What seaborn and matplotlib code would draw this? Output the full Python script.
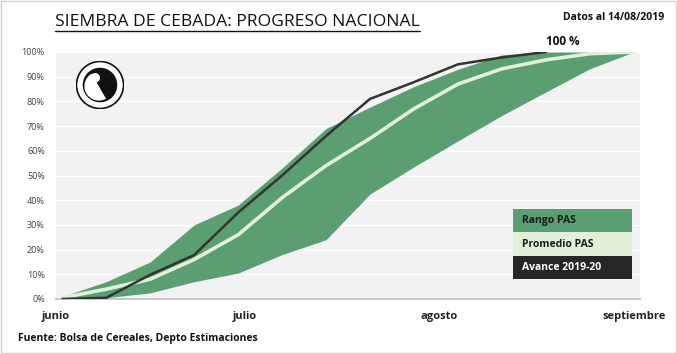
import pandas as pd
import matplotlib.pyplot as plt
from matplotlib.patches import Rectangle, Circle, Wedge
from matplotlib.lines import Line2D
import seaborn as sns

sns.set_theme(style="white")
plt.rcParams['font.family'] = ['Liberation Sans Narrow', 'Open Sans', 'DejaVu Sans']

# weekly dates of the season
fechas = ["2019-06-02", "2019-06-09", "2019-06-16", "2019-06-23", "2019-06-30",
          "2019-07-07", "2019-07-14", "2019-07-21", "2019-07-28", "2019-08-04",
          "2019-08-11", "2019-08-18", "2019-08-25", "2019-09-01"]
# range of previous seasons (PAS), % planted
rango_min = [0, 0.5, 2.5, 7, 10.5, 18, 24, 42.5, 53.5, 64, 74.3, 83.8, 93.2, 100]
rango_max = [1, 7, 15, 30, 38, 53, 69, 77.7, 86, 93, 98.8, 100, 100, 100]
promedio = [0.5, 4, 8, 16, 26, 41, 54, 65, 77, 87, 93.2, 96.8, 99.3, 100]
# current season, up to the last report
avance = [0, 0.5, 9.8, 17.8, 35, 50, 66, 81, 87.8, 95, 97.8, 100]

meses = ["2019-06-01", "2019-07-01", "2019-08-01", "2019-09-01"]
meses_lbl = ["junio", "julio", "agosto", "septiembre"]

df = pd.DataFrame({"fecha": pd.to_datetime(fechas), "min": rango_min,
                   "max": rango_max, "prom": promedio})
df_av = pd.DataFrame({"fecha": pd.to_datetime(fechas[:len(avance)]), "avance": avance})

verde = "#5a9e72"
claro = "#e2f0d9"
oscuro = "#333333"

fig = plt.figure(figsize=(6.77, 3.54), dpi=100)
fig.patch.set_facecolor("white")
ax = fig.add_axes([56 / 677, 55 / 354, 584 / 677, 247 / 354])
ax.set_facecolor("#f2f2f2")

ax.fill_between(df["fecha"], df["min"], df["max"], color=verde, lw=0, zorder=2)
sns.lineplot(data=df, x="fecha", y="prom", color=claro, lw=2.6, ax=ax, zorder=3)
sns.lineplot(data=df_av, x="fecha", y="avance", color=oscuro, lw=1.8, ax=ax, zorder=4)

last = df_av.iloc[-1]
ax.annotate("100 %", (last["fecha"], last["avance"]), xytext=(0, 3),
            textcoords="offset points", ha="left", va="bottom",
            fontsize=8.5, fontweight="bold", color="#111111", annotation_clip=False)

ax.set_xlim(pd.Timestamp("2019-06-01"), pd.Timestamp("2019-09-02"))
ax.set_ylim(0, 100)
ax.set_yticks(range(0, 101, 10))
ax.set_yticklabels([f"{v}%" for v in range(0, 101, 10)], fontsize=6.5, color="#404040")
ax.set_xticks(pd.to_datetime(meses))
ax.set_xticklabels(meses_lbl, fontsize=8, fontweight="bold", color="#222222")
ax.tick_params(axis="x", direction="out", length=4, color="#bfbfbf", pad=5)
ax.tick_params(axis="y", length=0, pad=8)
ax.yaxis.grid(True, color="white", lw=1)
ax.set_axisbelow(True)
for s in ["top", "right", "left"]:
    ax.spines[s].set_visible(False)
ax.spines["bottom"].set_color("#bfbfbf")
ax.set_xlabel("")
ax.set_ylabel("")

# legend as stacked boxes
filas = [("Rango PAS", verde, "#1a1a1a"), ("Promedio PAS", claro, "#1a1a1a"),
         ("Avance 2019-20", "#262626", "white")]
x0, x1 = (513 - 56) / 584, (632 - 56) / 584
tops = [0.364, 0.271, 0.174]
bots = [0.271, 0.174, 0.081]
for (txt, fc, tc), t, b in zip(filas, tops, bots):
    ax.add_patch(Rectangle((x0, b), x1 - x0, t - b, transform=ax.transAxes,
                           facecolor=fc, edgecolor="none", zorder=6))
    ax.text(x0 + 0.015, (t + b) / 2, txt, transform=ax.transAxes, ha="left",
            va="center", fontsize=7.5, fontweight="bold", color=tc, zorder=7)

# logo stand-in
lax = fig.add_axes([(100 - 24) / 677, (354 - 85 - 24) / 354, 48 / 677, 48 / 354])
lax.set_xlim(-1, 1)
lax.set_ylim(-1, 1)
lax.set_aspect("equal")
lax.axis("off")
lax.add_patch(Circle((0, 0), 0.98, facecolor="white", edgecolor="#111111", lw=1.2))
lax.add_patch(Circle((0, 0), 0.72, facecolor="#111111", edgecolor="none"))
lax.add_patch(Wedge((-0.05, -0.05), 0.6, 120, 300, facecolor="white", edgecolor="none"))
lax.add_patch(Circle((-0.2, 0.3), 0.2, facecolor="white", edgecolor="none"))

# titles
titulo = fig.text(55 / 677, 1 - 22 / 354, "SIEMBRA DE CEBADA: PROGRESO NACIONAL",
                  fontsize=12.6, color="#111111", ha="left", va="center")
fig.text(664 / 677, 1 - 17 / 354, "Datos al 14/08/2019", fontsize=7.5,
         fontweight="bold", color="#111111", ha="right", va="center")
fig.text(18 / 677, 1 - 338 / 354, "Fuente: Bolsa de Cereales, Depto Estimaciones",
         fontsize=7.5, fontweight="bold", color="#111111", ha="left", va="center")

# underline title
fig.canvas.draw()
bb = titulo.get_window_extent().transformed(fig.transFigure.inverted())
fig.add_artist(Line2D([bb.x0, bb.x1], [bb.y0 - 0.004, bb.y0 - 0.004], color="#111111",
                      lw=1, transform=fig.transFigure))

# outer frame
fig.add_artist(Rectangle((0.002, 0.003), 0.996, 0.994, transform=fig.transFigure,
                         fill=False, edgecolor="#d0d0d0", lw=1))

fig.savefig("out.png", dpi=100)
